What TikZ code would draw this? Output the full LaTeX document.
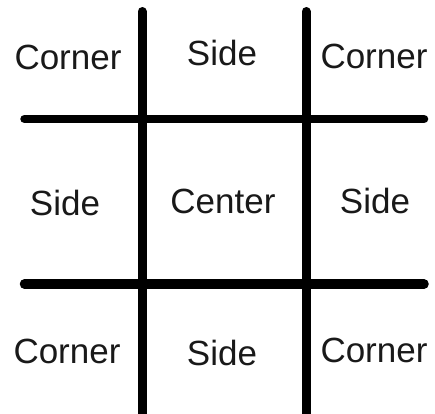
\documentclass[tikz,border=0pt]{standalone}
\usepackage{fontspec}
\setmainfont{Liberation Sans}
\begin{document}
\begin{tikzpicture}[x=1pt,y=-1pt,
  gridline/.style={line width=9pt,line cap=round,black},
  lbl/.style={anchor=base,inner sep=0pt,font=\fontsize{35}{40}\selectfont,text=black!90}]
\useasboundingbox (0,0) rectangle (435,413);
\coordinate (v1t) at (142,11.5);
\coordinate (v1b) at (142,420);
\coordinate (v2t) at (306,11.5);
\coordinate (v2b) at (306,420);
\coordinate (h1l) at (24.5,119);
\coordinate (h1r) at (424,119);
\coordinate (h2l) at (24.5,284);
\coordinate (h2r) at (424,284);
\draw[gridline] (v1t) -- (v1b);
\draw[gridline] (v2t) -- (v2b);
\draw[gridline,line width=8.5pt] (h1l) -- (h1r);
\draw[gridline,line width=9.5pt] (h2l) -- (h2r);
\node[lbl] (tl) at (68,69) {Corner};
\node[lbl] (tm) at (222,65) {Side};
\node[lbl] (tr) at (374,68) {Corner};
\node[lbl] (ml) at (65,215) {Side};
\node[lbl] (mm) at (223,213) {Center};
\node[lbl] (mr) at (375,213) {Side};
\node[lbl] (bl) at (67,363) {Corner};
\node[lbl] (bm) at (222,365) {Side};
\node[lbl] (br) at (374,362) {Corner};
\end{tikzpicture}
\end{document}
